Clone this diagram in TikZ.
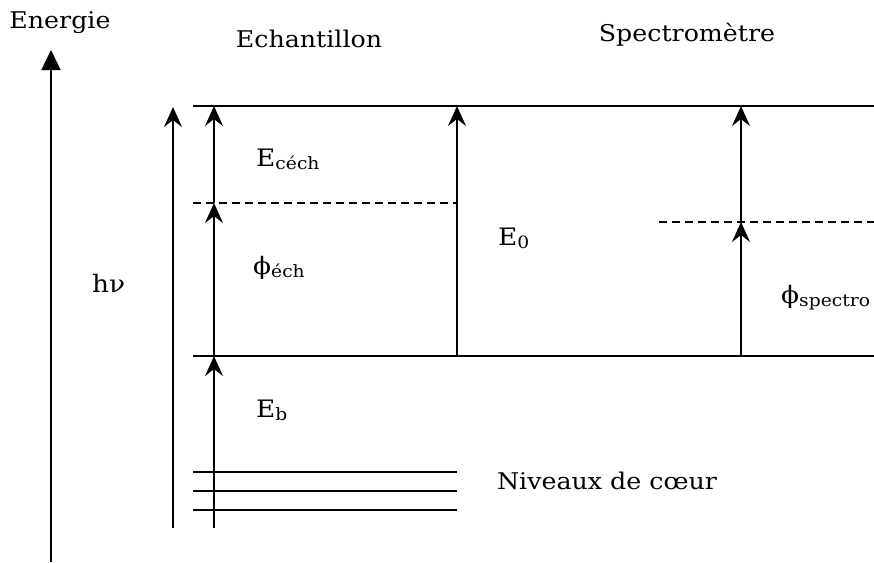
\documentclass[tikz,border=0pt]{standalone}
\usepackage{fontspec}
\setmainfont[FakeStretch=1.1]{DejaVu Serif}
\usetikzlibrary{arrows.meta}
\newcommand\lowsub[1]{\raisebox{-0.15em}{\fontsize{17}{17}\selectfont #1}}
\begin{document}
\begin{tikzpicture}[x=1pt,y=-1pt,
  lvl/.style={line width=1.4pt},
  dlvl/.style={line width=1.4pt,dash pattern=on 8pt off 5pt},
  up/.style={line width=1.4pt,-{Stealth[length=20pt,width=18pt,inset=7pt]}},
  axis/.style={line width=1.4pt,-{Triangle[length=20pt,width=19pt]}},
  head/.style={font=\fontsize{23}{26}\selectfont,inner sep=0pt,anchor=base},
  lbl/.style={font=\fontsize{24}{27}\selectfont,inner sep=0pt,anchor=base west}]
\useasboundingbox (0,0) rectangle (874,562);
% coordinates
\coordinate (ax0) at (51,562);
\coordinate (ax1) at (51,50);
\coordinate (hv0) at (173,528);
\coordinate (hv1) at (173,107);
\coordinate (a0) at (214,528);
\coordinate (a1) at (214,356);
\coordinate (a2) at (214,203);
\coordinate (a3) at (214,106);
\coordinate (b0) at (457,356);
\coordinate (b1) at (457,106);
\coordinate (c0) at (741,356);
\coordinate (c1) at (741,222);
\coordinate (c2) at (741,106);
\coordinate (topL) at (193,106);
\coordinate (topR) at (874,106);
\coordinate (botL) at (193,356);
\coordinate (botR) at (874,356);
\coordinate (dL) at (193,203);
\coordinate (dR) at (457,203);
\coordinate (sL) at (659,222);
\coordinate (sR) at (874,222);
\coordinate (k1L) at (193,472); \coordinate (k1R) at (457,472);
\coordinate (k2L) at (193,491); \coordinate (k2R) at (457,491);
\coordinate (k3L) at (193,510); \coordinate (k3R) at (457,510);
% levels
\draw[lvl] (topL) -- (topR);
\draw[lvl] (botL) -- (botR);
\draw[dlvl] (dL) -- (dR);
\draw[dlvl] (sL) -- (sR);
\draw[lvl] (k1L) -- (k1R);
\draw[lvl] (k2L) -- (k2R);
\draw[lvl] (k3L) -- (k3R);
% arrows
\draw[axis] (ax0) -- (ax1);
\draw[up] (hv0) -- (hv1);
\draw[up] (a0) -- (a1);
\draw[up] (a1) -- (a2);
\draw[up] (a2) -- (a3);
\draw[up] (b0) -- (b1);
\draw[up] (c0) -- (c1);
\draw[up] (c1) -- (c2);
% labels
\node[head] (en) at (60,28) {Energie};
\node[head] (ech) at (309,47) {Echantillon};
\node[head] (spe) at (687,41) {Spectromètre};
\node[head] (nc) at (607,489) {Niveaux de cœur};
\node[lbl] (ec) at (256,166) {E\lowsub{céch}};
\node[lbl] (pe) at (253,274) {ϕ\lowsub{éch}};
\node[lbl] (hn) at (92,292) {hν};
\node[lbl] (e0) at (498,245) {E\lowsub{0}};
\node[lbl] (ps) at (781,303) {ϕ\lowsub{spectro}};
\node[lbl] (eb) at (256,417) {E\lowsub{b}};
\end{tikzpicture}
\end{document}
